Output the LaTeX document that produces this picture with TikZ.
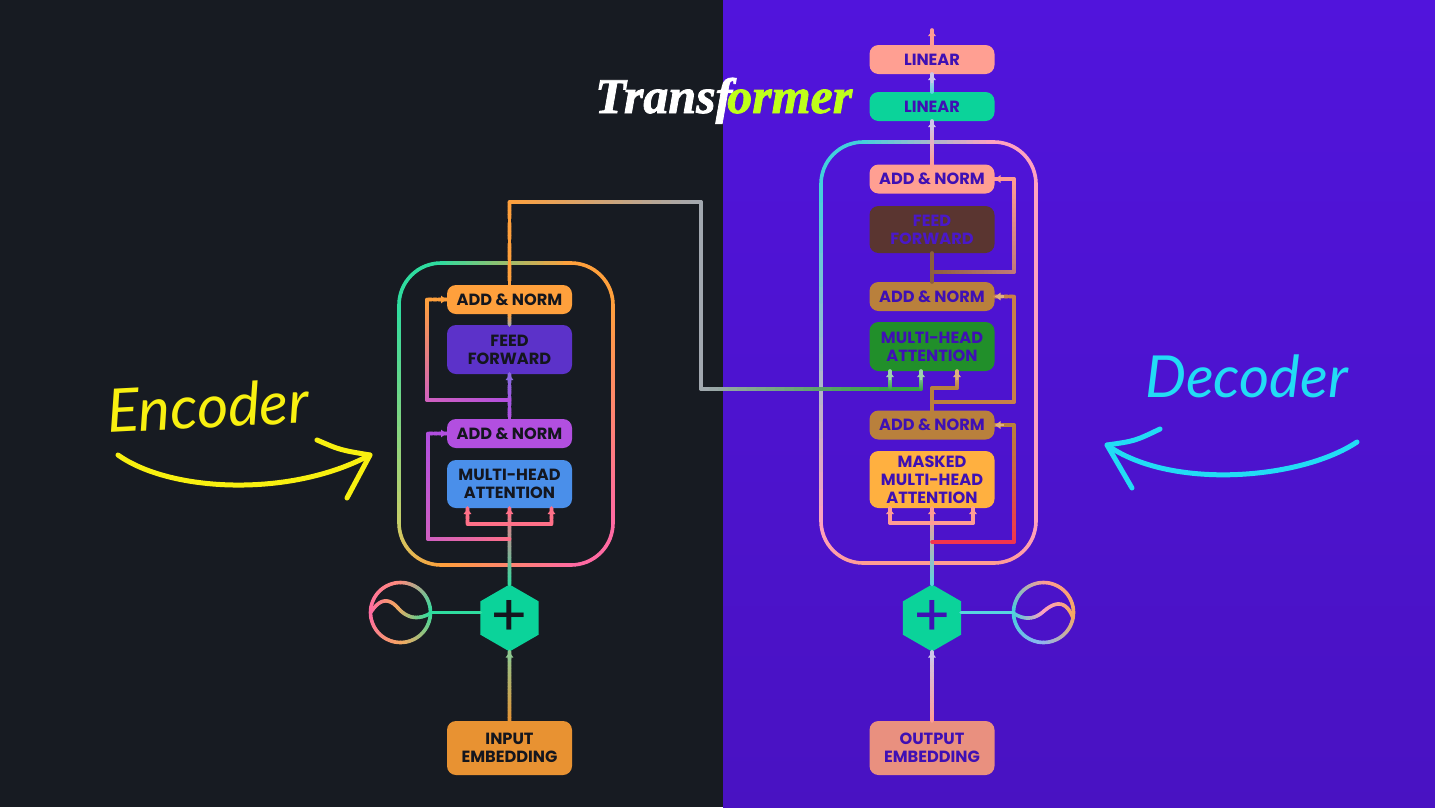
\documentclass[tikz,border=0pt]{standalone}
\usepackage{fontspec}
\setmainfont{Poppins}
\newfontfamily\serifit[BoldItalicFeatures={FakeBold=1.6}]{Liberation Serif}
\newfontfamily\handf{Lato}
\usetikzlibrary{calc,arrows.meta,shapes.geometric,shadings}
\definecolor{bgL}{HTML}{171B22}
\definecolor{bgRa}{HTML}{5114DC}
\definecolor{bgRb}{HTML}{4912C2}
\definecolor{gr}{HTML}{2FDC9F}
\definecolor{org}{HTML}{FFA03C}
\definecolor{pk}{HTML}{FF6AA2}
\definecolor{ylg}{HTML}{C9CF68}
\definecolor{sal}{HTML}{FF8C7E}
\definecolor{pur}{HTML}{B24FE0}
\definecolor{lpk}{HTML}{FF7088}
\definecolor{cy}{HTML}{42D0DC}
\definecolor{ppk}{HTML}{FFA2C0}
\definecolor{psal}{HTML}{FF9C94}
\definecolor{pale}{HTML}{CFC6EA}
\definecolor{brn}{HTML}{B9803C}
\definecolor{dbrn}{HTML}{8C5E3E}
\definecolor{red}{HTML}{F2344E}
\definecolor{gry}{HTML}{A2A8B0}
\definecolor{dgr}{HTML}{35A045}
\definecolor{tD}{HTML}{14161E}
\definecolor{tP}{HTML}{3F10B4}
\definecolor{HTMLff}{HTML}{5C32C9}
\definecolor{HTMLbl}{HTML}{4A8FEA}
\definecolor{HTMLem}{HTML}{E89232}
\definecolor{HTMLhx}{HTML}{0BD39A}
\definecolor{HTMLgg}{HTML}{8FC890}
\definecolor{HTMLmp}{HTML}{D060C0}
\definecolor{HTMLvi}{HTML}{8A68E0}
\definecolor{HTMLlg}{HTML}{A0D0B0}
\definecolor{HTMLlc}{HTML}{58D4E0}
\definecolor{HTMLbp}{HTML}{E0B080}
\definecolor{HTMLcc}{HTML}{C98048}
\definecolor{HTMLcb}{HTML}{C07878}
\definecolor{HTMLoo}{HTML}{F5A860}
\definecolor{HTMLlb}{HTML}{90B4F0}
\definecolor{HTMLsa}{HTML}{FF9F92}
\definecolor{HTMLbr}{HTML}{5A3530}
\definecolor{HTMLft}{HTML}{4A18C8}
\definecolor{HTMLgn}{HTML}{218F2A}
\definecolor{HTMLmk}{HTML}{FFB040}
\definecolor{HTMLoe}{HTML}{E9907F}
\definecolor{HTMLlm}{HTML}{BFFF1A}
\definecolor{HTMLye}{HTML}{F8F010}
\definecolor{HTMLcn}{HTML}{22DCF5}
\tikzset{
  blk/.style={rounded corners=9pt,minimum width=125pt,inner sep=0pt,outer sep=0pt,align=center,
    font=\fontsize{16.2}{18.2}\selectfont\bfseries},
  hexn/.style={regular polygon,regular polygon sides=6,shape border rotate=30,minimum size=67pt,inner sep=0pt,outer sep=0pt,fill=#1},
  sinen/.style={circle,minimum size=61pt,inner sep=0pt,outer sep=0pt},
  conn/.style={line width=3.6pt,line cap=round},
  hand/.style={line width=5pt,line cap=round,line join=round},
}
% gradient straight line, node to node
\newcommand{\gl}[4]{\foreach \i in {1,...,20}{%
  \pgfmathsetmacro\ta{(\i-1)/20}\pgfmathsetmacro\tb{\i/20}\pgfmathtruncatemacro\pct{100-5*\i+2}%
  \draw[conn,draw={#3!\pct!#4}] ($#1!\ta!#2$) -- ($#1!\tb!#2$);}}
% arrow tip at the end of a line
\newcommand{\tipto}[3]{\draw[line width=2.6pt,draw=#3,-{Latex[length=6pt,width=8.5pt]}] ($#2!9pt!#1$) -- #2;}
% gradient arc: cx cy r a0 a1 colA colB
\newcommand{\garc}[7]{\foreach \i in {1,...,16}{%
  \pgfmathsetmacro\aa{#4+(#5-#4)*(\i-1)/16}\pgfmathsetmacro\ab{#4+(#5-#4)*\i/16}%
  \pgfmathtruncatemacro\pct{100-(100*\i-50)/16}%
  \draw[conn,draw={#6!\pct!#7}] ({#1+#3*cos(\aa)},{#2-#3*sin(\aa)}) -- ({#1+#3*cos(\ab)},{#2-#3*sin(\ab)});}}
% gradient quadratic bezier
\newcommand{\gbez}[5]{\foreach \i in {1,...,16}{%
  \pgfmathsetmacro\ta{(\i-1)/16}\pgfmathsetmacro\tb{\i/16}\pgfmathtruncatemacro\pct{100-(100*\i-50)/16}%
  \draw[conn,draw={#4!\pct!#5}] ($($#1!\ta!#2$)!\ta!($#2!\ta!#3$)$) -- ($($#1!\tb!#2$)!\tb!($#2!\tb!#3$)$);}}
\begin{document}
\begin{tikzpicture}[x=1pt,y=-1pt]
\useasboundingbox (0,0) rectangle (1435,807);
\fill[bgL] (0,0) rectangle (723,807);
\shade[top color=bgRa,bottom color=bgRb] (723,0) rectangle (1435,807);

% ---------- frames
\gl{(441,263)}{(571,263)}{gr}{org}
\garc{571}{305}{42}{90}{0}{org}{org}
\gl{(613,305)}{(613,523)}{org}{pk}
\garc{571}{523}{42}{0}{-90}{pk}{pk}
\gl{(571,565)}{(441,565)}{pk}{org}
\garc{441}{523}{42}{-90}{-180}{org}{ylg}
\gl{(399,523)}{(399,305)}{ylg}{gr}
\garc{441}{305}{42}{180}{90}{gr}{gr}

\gl{(863,142)}{(994,142)}{cy}{ppk}
\garc{994}{184}{42}{90}{0}{ppk}{ppk}
\gl{(1036,184)}{(1036,521)}{ppk}{ppk}
\garc{994}{521}{42}{0}{-90}{ppk}{psal}
\gl{(994,563)}{(863,563)}{psal}{psal}
\garc{863}{521}{42}{-90}{-180}{psal}{ppk}
\gl{(821,521)}{(821,184)}{ppk}{cy}
\garc{863}{184}{42}{180}{90}{cy}{cy}

% ---------- encoder nodes
\node[blk,fill=org,text=tD,minimum height=29pt] (eAN2) at (509.5,299.5) {ADD \& NORM};
\node[blk,fill=HTMLff,text=tD,minimum height=49pt] (eFF) at (509.5,349.5) {FEED\\FORWARD};
\node[blk,fill=pur,text=tD,minimum height=29pt] (eAN1) at (509.5,433.5) {ADD \& NORM};
\node[blk,fill=HTMLbl,text=tD,minimum height=48pt] (eMH) at (509.5,484) {MULTI-HEAD\\ATTENTION};
\node[blk,fill=HTMLem,text=tD,minimum height=54pt] (eIN) at (509.5,748) {INPUT\\EMBEDDING};
\node[hexn=HTMLhx,text=tD,font=\fontsize{58}{58}\selectfont] (eHX) at (509.5,618) {+};
\node[sinen] (eSN) at (400.5,612.5) {};

% ---------- decoder nodes
\node[blk,fill=HTMLsa,text=tP,minimum height=29pt] (dL2) at (932,59.5) {LINEAR};
\node[blk,fill=HTMLhx,text=tP,minimum height=29pt] (dL1) at (932,106.5) {LINEAR};
\node[blk,fill=HTMLsa,text=tP,minimum height=29pt] (dAN3) at (932,179) {ADD \& NORM};
\node[blk,fill=HTMLbr,text=HTMLft,minimum height=47pt] (dFF) at (932,229.5) {FEED\\FORWARD};
\node[blk,fill=brn,text=tP,minimum height=29pt] (dAN2) at (932,296.5) {ADD \& NORM};
\node[blk,fill=HTMLgn,text=tP,minimum height=49pt] (dMH) at (932,346.5) {MULTI-HEAD\\ATTENTION};
\node[blk,fill=brn,text=tP,minimum height=29pt] (dAN1) at (932,425) {ADD \& NORM};
\node[blk,fill=HTMLmk,text=tP,minimum height=57pt] (dMK) at (932,479.5) {MASKED\\MULTI-HEAD\\ATTENTION};
\node[blk,fill=HTMLoe,text=tP,minimum height=54pt] (dOU) at (932,748) {OUTPUT\\EMBEDDING};
\node[hexn=HTMLhx,text=tP,font=\fontsize{58}{58}\selectfont] (dHX) at (932,618) {+};
\node[sinen] (dSN) at (1043.5,612.5) {};

% ---------- encoder connectors
\gl{(eIN.north)}{(eHX.south)}{HTMLem}{HTMLgg}
\tipto{(eIN.north)}{(eHX.south)}{HTMLgg}
\gl{(eHX.north)}{(eMH.south)}{gr}{lpk}
\tipto{(eHX.north)}{(eMH.south)}{lpk}
\coordinate (eB0) at (509.5,524); \coordinate (eBa) at (467.5,524); \coordinate (eBb) at (551.5,524);
\coordinate (eBat) at (467.5,508); \coordinate (eBbt) at (551.5,508);
\gl{(eB0)}{(eBa)}{lpk}{lpk}\gl{(eBa)}{(eBat)}{lpk}{lpk}\tipto{(eBa)}{(eBat)}{lpk}
\gl{(eB0)}{(eBb)}{lpk}{lpk}\gl{(eBb)}{(eBbt)}{lpk}{lpk}\tipto{(eBb)}{(eBbt)}{lpk}
\coordinate (eR1a) at (509.5,539); \coordinate (eR1b) at (428,539); \coordinate (eR1c) at (428,433.5);
\gl{(eR1a)}{(eR1b)}{lpk}{HTMLmp}\gl{(eR1b)}{(eR1c)}{HTMLmp}{pur}
\gl{(eR1c)}{(eAN1.west)}{pur}{pur}\tipto{(eR1c)}{(eAN1.west)}{pur}
\gl{(eAN1.north)}{(eFF.south)}{pur}{HTMLvi}
\tipto{(eAN1.north)}{(eFF.south)}{HTMLvi}
\coordinate (eR2a) at (509.5,400); \coordinate (eR2b) at (427,400); \coordinate (eR2c) at (427,299.5);
\gl{(eR2a)}{(eR2b)}{pur}{HTMLmp}\gl{(eR2b)}{(eR2c)}{HTMLmp}{org}
\gl{(eR2c)}{(eAN2.west)}{org}{org}\tipto{(eR2c)}{(eAN2.west)}{org}
\gl{(eFF.north)}{(eAN2.south)}{gry}{org}
% encoder to decoder
\coordinate (xA) at (509.5,202); \coordinate (xB) at (701,202); \coordinate (xC) at (701,389);
\coordinate (xD) at (890,389); \coordinate (xE) at (921,389);
\coordinate (xDt) at (890,371); \coordinate (xEt) at (921,371);
\gl{(eAN2.north)}{(xA)}{org}{org}
\gl{(xA)}{(xB)}{org}{gry}
\gl{(xB)}{(xC)}{gry}{gry}
\gl{(xC)}{(xD)}{gry}{dgr}
\gl{(xD)}{(xE)}{dgr}{dgr}
\gl{(xD)}{(xDt)}{dgr}{HTMLlg}\tipto{(xD)}{(xDt)}{HTMLlg}
\gl{(xE)}{(xEt)}{dgr}{HTMLlg}\tipto{(xE)}{(xEt)}{HTMLlg}

% ---------- decoder connectors
\coordinate (dTop) at (932,30);
\gl{(dL2.north)}{(dTop)}{psal}{psal}\tipto{(dL2.north)}{(dTop)}{psal}
\gl{(dL1.north)}{(dL2.south)}{HTMLlc}{pale}\tipto{(dL1.north)}{(dL2.south)}{pale}
\gl{(dAN3.north)}{(dL1.south)}{psal}{pale}\tipto{(dAN3.north)}{(dL1.south)}{pale}
\gl{(dOU.north)}{(dHX.south)}{psal}{pale}\tipto{(dOU.north)}{(dHX.south)}{pale}
\gl{(dHX.north)}{(dMK.south)}{HTMLlc}{psal}\tipto{(dHX.north)}{(dMK.south)}{psal}
\coordinate (dB0) at (932,523); \coordinate (dBa) at (890,523); \coordinate (dBb) at (973,523);
\coordinate (dBat) at (890,508); \coordinate (dBbt) at (973,508);
\gl{(dB0)}{(dBa)}{psal}{psal}\gl{(dBa)}{(dBat)}{psal}{psal}\tipto{(dBa)}{(dBat)}{psal}
\gl{(dB0)}{(dBb)}{psal}{psal}\gl{(dBb)}{(dBbt)}{psal}{psal}\tipto{(dBb)}{(dBbt)}{psal}
\coordinate (dR1a) at (932,542); \coordinate (dR1b) at (1014,542); \coordinate (dR1c) at (1014,425);
\gl{(dR1a)}{(dR1b)}{red}{red}\gl{(dR1b)}{(dR1c)}{red}{brn}
\gl{(dR1c)}{(dAN1.east)}{brn}{brn}\tipto{(dR1c)}{(dAN1.east)}{HTMLbp}
% add&norm 1 up
\coordinate (dU1) at (932,402); \coordinate (dU2) at (932,388); \coordinate (dU3) at (957,388); \coordinate (dU3t) at (957,371);
\gl{(dAN1.north)}{(dU1)}{brn}{brn}\gl{(dU1)}{(dU2)}{brn}{brn}\gl{(dU2)}{(dU3)}{brn}{brn}
\gl{(dU3)}{(dU3t)}{brn}{HTMLbp}\tipto{(dU3)}{(dU3t)}{HTMLbp}
\coordinate (dR2b) at (1014,402); \coordinate (dR2c) at (1014,296.5);
\gl{(dU1)}{(dR2b)}{brn}{HTMLcc}\gl{(dR2b)}{(dR2c)}{HTMLcc}{HTMLcc}
\gl{(dR2c)}{(dAN2.east)}{HTMLcc}{HTMLcc}\tipto{(dR2c)}{(dAN2.east)}{HTMLbp}
% add&norm 2 up
\gl{(dAN2.north)}{(dFF.south)}{dbrn}{dbrn}
\coordinate (dR3a) at (932,272); \coordinate (dR3b) at (1014,272); \coordinate (dR3c) at (1014,179);
\gl{(dR3a)}{(dR3b)}{dbrn}{HTMLcb}\gl{(dR3b)}{(dR3c)}{HTMLcb}{psal}
\gl{(dR3c)}{(dAN3.east)}{psal}{psal}\tipto{(dR3c)}{(dAN3.east)}{psal}

% ---------- positional encoding circles
\garc{400.5}{612.5}{30}{0}{-90}{gr}{HTMLoo}
\garc{400.5}{612.5}{30}{-90}{-180}{HTMLoo}{pk}
\garc{400.5}{612.5}{30}{-180}{-270}{pk}{sal}
\garc{400.5}{612.5}{30}{-270}{-360}{sal}{gr}
\gbez{(371,612)}{(384,592)}{(398,608)}{pk}{HTMLoo}
\gbez{(398,608)}{(412,624)}{(431,613)}{HTMLoo}{gr}
\draw[conn,draw=gr] (eSN.east) -- (eSN.east -| eHX.west);

\garc{1043.5}{612.5}{30}{180}{270}{cy}{HTMLlb}
\garc{1043.5}{612.5}{30}{270}{360}{HTMLlb}{HTMLoo}
\garc{1043.5}{612.5}{30}{0}{90}{HTMLoo}{psal}
\garc{1043.5}{612.5}{30}{90}{180}{psal}{cy}
\gbez{(1013,613)}{(1030,624)}{(1044,611)}{cy}{ppk}
\gbez{(1044,611)}{(1064,594)}{(1073,618)}{ppk}{HTMLoo}
\draw[conn,draw=HTMLlc] (dSN.west) -- (dSN.west -| dHX.east);

% ---------- titles and hand-drawn arrows
\node[anchor=base west,inner sep=0pt,font=\serifit\fontsize{50}{50}\selectfont\bfseries\itshape] (ttl) at (595,113)
  {\textcolor{white}{Transf}\kern-5pt\textcolor{HTMLlm}{ormer}};
\node[anchor=base west,inner sep=0pt,text=HTMLye,rotate=3,font=\handf\fontsize{60}{60}\selectfont\itshape] (encT) at (108,433) {Encoder};
\node[anchor=base west,inner sep=0pt,text=HTMLcn,font=\handf\fontsize{58}{58}\selectfont\itshape] (decT) at (1145,397) {Decoder};
\coordinate (eTip) at (370,455); \coordinate (eTail) at (118,455);
\coordinate (dTip) at (1107,445); \coordinate (dTail) at (1357,442);
\draw[hand,HTMLye] (eTail) .. controls (170,492) and (290,498) .. (eTip);
\draw[hand,HTMLye] (317,440) .. controls (340,450) .. (eTip) -- (347,498);
\draw[hand,HTMLcn] (dTail) .. controls (1300,480) and (1170,490) .. (dTip);
\draw[hand,HTMLcn] (1160,429) .. controls (1135,441) .. (dTip) -- (1132,488);
\end{tikzpicture}
\end{document}
